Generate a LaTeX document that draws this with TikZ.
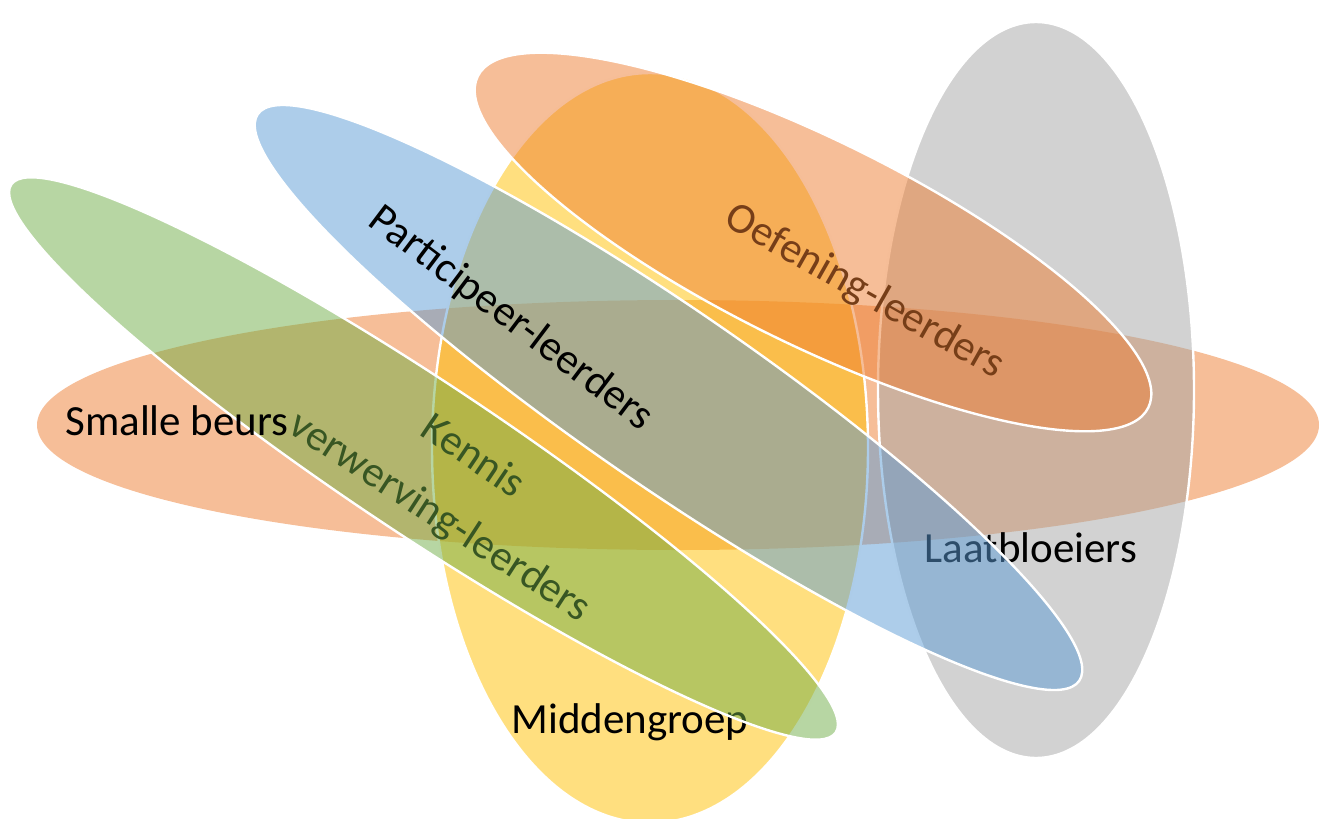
\documentclass[tikz,border=0pt]{standalone}
\usepackage{fontspec}
\setmainfont{Carlito}
\definecolor{accOrange}{HTML}{ED7D31}
\definecolor{accGold}{HTML}{FFC000}
\definecolor{accGrey}{HTML}{A5A5A5}
\definecolor{accGreen}{HTML}{70AD47}
\definecolor{accBlue}{HTML}{5B9BD5}
\tikzset{
  vennshape/.style={fill opacity=0.5, draw=white, draw opacity=1, line width=2.4pt},
  plainshape/.style={fill opacity=0.5},
  lbl/.style={font=\fontsize{43}{51}\selectfont, text=black, inner sep=0pt, anchor=base},
}
\begin{document}
\begin{tikzpicture}[x=1pt,y=-1pt]
\useasboundingbox (0,0) rectangle (1328,819);
% Smalle beurs (horizontal orange, no outline)
\path[plainshape, fill=accOrange] (678,425) ellipse [x radius=641, y radius=125];
% Middengroep (gold)
\path[vennshape, fill=accGold] (650,448) ellipse [x radius=218, y radius=375];
\node[lbl] (midden) at (630,733) {Middengroep};
% Laatbloeiers (grey)
\path[vennshape, fill=accGrey] (1036,390) ellipse [x radius=158, y radius=368];
\node[lbl] (laat) at (1031,562) {Laatbloeiers};
% Kennis verwerving-leerders (green)
\node[lbl, rotate=-34] (kennisA) at (466,467) {Kennis};
\node[lbl, rotate=-33] (kennisB) at (433,527) {verwerving-leerders};
\path[vennshape, fill=accGreen, shift={(423.5,458.5)}, rotate=-33.6] (0,0) ellipse [x radius=495, y radius=76];
% Participeer-leerders (blue)
\path[vennshape, fill=accBlue, shift={(668.5,397.5)}, rotate=-34.6] (0,0) ellipse [x radius=499, y radius=88];
% Oefening-leerders (orange, tilted)
\node[lbl, rotate=-29.5] (oef) at (859,302) {Oefening-leerders};
\path[vennshape, fill=accOrange, shift={(813,242)}, rotate=-26.3] (0,0) ellipse [x radius=374, y radius=102];
% labels on top
\node[lbl, rotate=-37] (part) at (504,328) {Participeer-leerders};
\node[lbl] (smalle) at (177,435) {Smalle beurs};
\end{tikzpicture}
\end{document}
